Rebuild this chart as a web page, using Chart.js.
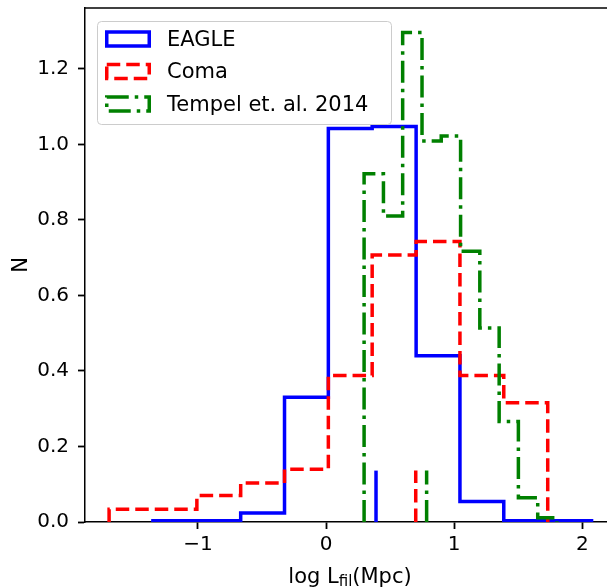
<!DOCTYPE html>
<html>
<head>
<meta charset="utf-8">
<script src="https://cdn.jsdelivr.net/npm/chart.js@4.4.1/dist/chart.umd.min.js"></script>
<style>
    html, body { margin: 0; padding: 0; background: #fff; overflow: hidden; }
    #contenedor { width: 625px; height: 587px; }
</style>
</head>
<body>
<div id="contenedor"><canvas id="grafica"></canvas></div>
<script>
// histogramas (bordes de bin y alturas normalizadas)
const bordesEagle = [-1.351, -1.008, -0.666, -0.324, 0.018, 0.360, 0.703, 1.045, 1.387, 1.730, 2.072];
const valoresEagle = [0.003, 0.003, 0.024, 0.330, 1.042, 1.047, 0.440, 0.054, 0.003, 0.003];

const bordesComa = [-1.693, -1.351, -1.008, -0.666, -0.324, 0.018, 0.360, 0.703, 1.045, 1.387, 1.730];
const valoresComa = [0.034, 0.034, 0.070, 0.103, 0.140, 0.388, 0.707, 0.743, 0.388, 0.316];

const bordesTempel = [0.297, 0.448, 0.598, 0.749, 0.899, 1.050, 1.200, 1.351, 1.501, 1.652, 1.802];
const valoresTempel = [0.922, 0.810, 1.296, 1.009, 1.022, 0.717, 0.514, 0.266, 0.064, 0.011];

// medianas de cada muestra (EAGLE, Coma, Tempel)
const medianas = [0.39, 0.70, 0.785];

const etiquetas = ["EAGLE", "Coma", "Tempel et. al. 2014"];

const ticksX = [-1, 0, 1, 2];
const ticksY = [0, 0.2, 0.4, 0.6, 0.8, 1.0, 1.2];
const rangoX = [-1.881, 2.255];
const rangoY = [0, 1.361];


const estilos = [
    { color: "#0000ff", dash: [] },
    { color: "#ff0000", dash: [13.5, 6] },
    { color: "#008000", dash: [22, 6, 3.5, 6] }
];

function escalones(bordes, valores){
    let puntos = [{ x: bordes[0], y: 0 }];
    for(let i = 0; i < valores.length; i++){
        puntos.push({ x: bordes[i], y: valores[i] });
        puntos.push({ x: bordes[i + 1], y: valores[i] });
    }
    puntos.push({ x: bordes[bordes.length - 1], y: 0 });
    return puntos;
}

const series = [
    escalones(bordesEagle, valoresEagle),
    escalones(bordesComa, valoresComa),
    escalones(bordesTempel, valoresTempel)
];

let datasets = [];

series.forEach((puntos, i) => {
    datasets.push({
        label: etiquetas[i],
        data: puntos,
        borderColor: estilos[i].color,
        borderDash: estilos[i].dash,
        borderWidth: 3.5,
        borderCapStyle: "butt",
        borderJoinStyle: "miter",
        fill: false,
        pointRadius: 0,
        tension: 0,
        order: 4 - i
    });
});

// raya corta (10% de la altura del eje) en cada mediana
medianas.forEach((m, i) => {
    datasets.push({
        data: [{ x: m, y: 0 }, { x: m, y: 0.1 * rangoY[1] }],
        borderColor: estilos[i].color,
        borderDash: estilos[i].dash,
        borderWidth: 3.5,
        borderCapStyle: "butt",
        fill: false,
        pointRadius: 0,
        order: 1
    });
});

const decorado = {
    id: "decorado",
    afterDraw(chart){
        const ctx = chart.ctx;
        const area = chart.chartArea;
        ctx.save();

        // borde superior del eje
        ctx.strokeStyle = "#000";
        ctx.lineWidth = 1.5;
        ctx.beginPath();
        ctx.moveTo(area.left, area.top);
        ctx.lineTo(area.right, area.top);
        ctx.stroke();

        // leyenda
        const lx = area.left + 12;
        const ly = area.top + 13;
        ctx.fillStyle = "rgba(255,255,255,0.8)";
        ctx.strokeStyle = "#cccccc";
        ctx.lineWidth = 1;
        ctx.beginPath();
        ctx.roundRect(lx + 0.5, ly + 0.5, 294, 103, 4);
        ctx.fill();
        ctx.stroke();

        ctx.font = '21px "DejaVu Sans"';
        ctx.textBaseline = "alphabetic";
        ctx.textAlign = "left";
        chart.data.datasets.filter(d => d.label).forEach((d, i) => {
            const cy = ly + 18 + i * 32.5;
            ctx.strokeStyle = d.borderColor;
            ctx.lineWidth = 3.5;
            ctx.setLineDash(d.borderDash);
            ctx.strokeRect(lx + 9.75, cy - 7, 42.5, 14);
            ctx.setLineDash([]);
            ctx.fillStyle = "#000";
            ctx.fillText(d.label, lx + 70, cy + 6.5);
        });

        // título eje x con subíndice
        const grande = '21px "DejaVu Sans"';
        const chico = '15px "DejaVu Sans"';
        ctx.font = grande;
        const w1 = ctx.measureText("log L").width;
        const w3 = ctx.measureText("(Mpc)").width;
        ctx.font = chico;
        const w2 = ctx.measureText("fil").width;
        let x = (area.left + area.right) / 2 - (w1 + w2 + w3) / 2;
        const base = area.bottom + 61;
        ctx.fillStyle = "#000";
        ctx.font = grande;
        ctx.fillText("log L", x, base);
        x += w1;
        ctx.font = chico;
        ctx.fillText("fil", x, base + 3);
        x += w2;
        ctx.font = grande;
        ctx.fillText("(Mpc)", x, base);

        // título eje y
        ctx.translate(27, (area.top + area.bottom) / 2);
        ctx.rotate(-Math.PI / 2);
        ctx.textAlign = "center";
        ctx.fillText("N", 0, 0);

        ctx.restore();
    }
};

Chart.defaults.font.family = '"DejaVu Sans"';

const ctx = document.getElementById("grafica").getContext("2d");

new Chart(ctx, {
    type: "line",
    data: { datasets: datasets },
    options: {
        responsive: true,
        maintainAspectRatio: false,
        animation: false,
        events: [],
        layout: { padding: { top: 8, right: 10, left: 0, bottom: 0 } },
        plugins: {
            legend: { display: false },
            tooltip: { enabled: false }
        },
        scales: {
            x: {
                type: "linear",
                min: rangoX[0],
                max: rangoX[1],
                afterBuildTicks: s => { s.ticks = ticksX.map(v => ({ value: v })); },
                afterFit: s => { s.height = 65; s.paddingLeft = 0; s.paddingRight = 0; },
                grid: { drawOnChartArea: false, color: "#000", tickLength: 7, tickWidth: 1.8 },
                border: { color: "#000", width: 1.5 },
                ticks: {
                    color: "#000",
                    font: { size: 20 },
                    padding: 4,
                    maxRotation: 0,
                    autoSkip: false,
                    callback: v => (v < 0 ? "\u2212" : "") + Math.abs(v)
                }
            },
            y: {
                type: "linear",
                min: rangoY[0],
                max: rangoY[1],
                afterBuildTicks: s => { s.ticks = ticksY.map(v => ({ value: v })); },
                afterFit: s => { s.width = 85; s.paddingTop = 0; s.paddingBottom = 0; },
                grid: { drawOnChartArea: false, color: "#000", tickLength: 7, tickWidth: 1.8 },
                border: { color: "#000", width: 1.5 },
                ticks: {
                    color: "#000",
                    font: { size: 20 },
                    padding: 9,
                    callback: v => v.toFixed(1)
                }
            }
        }
    },
    plugins: [decorado]
});
</script>
</body>
</html>
